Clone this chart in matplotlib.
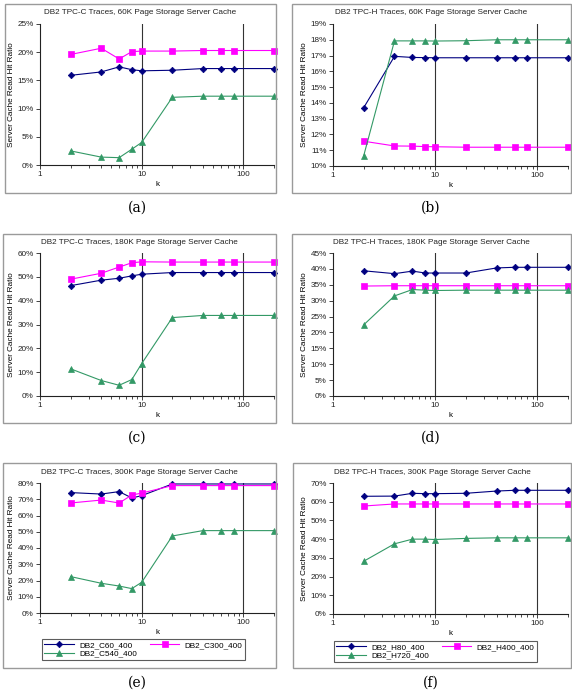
import matplotlib
matplotlib.use("Agg")
import matplotlib.pyplot as plt
from matplotlib.patches import Rectangle
from matplotlib.ticker import FixedLocator, NullFormatter, FuncFormatter

plt.rcParams["font.family"] = ["Liberation Sans", "DejaVu Sans"]

k = [2, 4, 6, 8, 10, 20, 40, 60, 80, 200]

# (a) TPC-C 60K
a_c60 = [15.9, 16.5, 17.4, 16.9, 16.7, 16.8, 17.1, 17.1, 17.1, 17.1]
a_c300 = [19.6, 20.7, 18.8, 20.1, 20.2, 20.2, 20.3, 20.3, 20.3, 20.3]
a_c540 = [2.5, 1.4, 1.3, 2.8, 4.0, 12.0, 12.2, 12.2, 12.2, 12.2]
# (b) TPC-H 60K
b_h80 = [13.7, 16.95, 16.88, 16.87, 16.86, 16.86, 16.86, 16.86, 16.86, 16.86]
b_h400 = [11.57, 11.27, 11.26, 11.23, 11.22, 11.19, 11.19, 11.19, 11.19, 11.19]
b_h720 = [10.66, 17.93, 17.93, 17.93, 17.92, 17.94, 18.0, 18.0, 18.0, 18.0]
# (c) TPC-C 180K
c_c60 = [46.3, 48.6, 49.4, 50.4, 51.1, 51.8, 51.8, 51.8, 51.8, 51.8]
c_c300 = [49.0, 51.5, 54.1, 55.9, 56.3, 56.2, 56.2, 56.2, 56.2, 56.2]
c_c540 = [11.4, 6.5, 4.5, 6.9, 13.6, 32.9, 33.8, 33.8, 33.8, 33.8]
# (d) TPC-H 180K
d_h80 = [39.4, 38.5, 39.3, 38.7, 38.7, 38.7, 40.3, 40.5, 40.5, 40.5]
d_h400 = [34.6, 34.7, 34.7, 34.7, 34.7, 34.7, 34.7, 34.7, 34.7, 34.7]
d_h720 = [22.4, 31.5, 33.5, 33.3, 33.2, 33.3, 33.3, 33.3, 33.3, 33.3]
# (e) TPC-C 300K
e_c60 = [74.1, 73.2, 74.7, 70.8, 72.2, 79.4, 79.4, 79.4, 79.4, 79.4]
e_c300 = [67.7, 69.5, 67.7, 72.6, 73.8, 78.4, 78.4, 78.4, 78.4, 78.4]
e_c540 = [22.4, 18.3, 16.6, 15.0, 18.9, 47.4, 50.7, 50.7, 50.7, 50.7]
# (f) TPC-H 300K
f_h80 = [62.9, 63.0, 64.5, 64.3, 64.3, 64.5, 65.7, 66.1, 66.1, 66.1]
f_h400 = [57.7, 58.8, 58.8, 58.8, 58.8, 58.8, 58.8, 58.8, 58.8, 58.8]
f_h720 = [28.2, 37.5, 40.0, 40.0, 39.8, 40.4, 40.7, 40.7, 40.7, 40.7]

c_names = ["DB2_C60_400", "DB2_C300_400", "DB2_C540_400"]
h_names = ["DB2_H80_400", "DB2_H400_400", "DB2_H720_400"]

titles = [
    "DB2 TPC-C Traces, 60K Page Storage Server Cache",
    "DB2 TPC-H Traces, 60K Page Storage Server Cache",
    "DB2 TPC-C Traces, 180K Page Storage Server Cache",
    "DB2 TPC-H Traces, 180K Page Storage Server Cache",
    "DB2 TPC-C Traces, 300K Page Storage Server Cache",
    "DB2 TPC-H Traces, 300K Page Storage Server Cache",
]
captions = ["(a)", "(b)", "(c)", "(d)", "(e)", "(f)"]

W, H = 572, 690
fig = plt.figure(figsize=(W / 100, H / 100), dpi=100)
fig.patch.set_facecolor("white")

def rect(l, t, r, b):
    return [l / W, 1 - b / H, (r - l) / W, (b - t) / H]

colors = ["#000080", "#FF00FF", "#339966"]
markers = ["D", "s", "^"]
msizes = [3.3, 4.6, 4.6]
FS = 5.9

panels = [
    dict(data=[a_c60, a_c300, a_c540], names=c_names, ylim=(0, 25), ystep=5,
         frame=(5, 4, 276, 193), ax=(40, 24, 274, 165), cap=(137, 208)),
    dict(data=[b_h80, b_h400, b_h720], names=h_names, ylim=(10, 19), ystep=1,
         frame=(292, 4, 571, 193), ax=(333, 24, 568, 166), cap=(431, 208)),
    dict(data=[c_c60, c_c300, c_c540], names=c_names, ylim=(0, 60), ystep=10,
         frame=(3, 234, 276, 423), ax=(40, 253, 274, 396), cap=(137, 438)),
    dict(data=[d_h80, d_h400, d_h720], names=h_names, ylim=(0, 45), ystep=5,
         frame=(292, 234, 571, 423), ax=(333, 253, 568, 396), cap=(431, 438)),
    dict(data=[e_c60, e_c300, e_c540], names=c_names, ylim=(0, 80), ystep=10,
         frame=(3, 463, 276, 668), ax=(40, 483, 274, 613), cap=(137, 683), legend=(42, 639, 238, 663)),
    dict(data=[f_h80, f_h400, f_h720], names=h_names, ylim=(0, 70), ystep=10,
         frame=(293, 463, 571, 668), ax=(333, 483, 568, 614), cap=(431, 683), legend=(334, 641, 531, 663)),
]

for i, p in enumerate(panels):
    fl, ft, fr, fb = p["frame"]
    fig.patches.append(Rectangle((fl / W, 1 - fb / H), (fr - fl) / W, (fb - ft) / H,
                                 transform=fig.transFigure, fill=False,
                                 edgecolor="#9a9a9a", linewidth=1.0))
    fig.text((fl + fr) / 2 / W, 1 - (ft + 9) / H, titles[i], ha="center", va="center",
             fontsize=FS, color="#222222")
    fig.text(p["cap"][0] / W, 1 - p["cap"][1] / H, captions[i], ha="center", va="center",
             fontsize=10, family="DejaVu Serif")

    ax = fig.add_axes(rect(*p["ax"]))
    lines = []
    for j in range(3):
        ln, = ax.plot(k, p["data"][j], color=colors[j], marker=markers[j],
                      markersize=msizes[j], linewidth=0.8, label=p["names"][j],
                      markeredgewidth=0.5, clip_on=False, zorder=3)
        lines.append(ln)
    ax.set_xscale("log")
    ax.set_xlim(1, 200)
    ylo, yhi = p["ylim"]
    ax.set_ylim(ylo, yhi)
    step = p["ystep"]
    ax.set_yticks(list(range(int(ylo), int(yhi) + 1, step)))
    ax.yaxis.set_major_formatter(FuncFormatter(lambda v, pos: f"{int(round(v))}%"))
    ax.xaxis.set_major_locator(FixedLocator([1, 10, 100]))
    ax.xaxis.set_major_formatter(FuncFormatter(lambda v, pos: f"{int(v)}"))
    ax.xaxis.set_minor_locator(FixedLocator([2, 3, 4, 5, 6, 7, 8, 9, 20, 30, 40, 50, 60, 70, 80, 90, 200]))
    ax.xaxis.set_minor_formatter(NullFormatter())
    for xv in [10, 100]:
        ax.axvline(xv, color="#333333", linewidth=0.8, zorder=1)
    ax.spines["top"].set_visible(False)
    ax.spines["right"].set_visible(False)
    for s in ["left", "bottom"]:
        ax.spines[s].set_linewidth(0.8)
        ax.spines[s].set_color("#222222")
    ax.tick_params(axis="both", labelsize=FS, length=3, width=0.6, pad=1.5, colors="#222222")
    ax.tick_params(axis="x", which="minor", length=2, width=0.5)
    ax.set_xlabel("k", fontsize=FS, labelpad=2)
    ax.set_ylabel("Server Cache Read Hit Ratio", fontsize=FS, labelpad=2)

    if "legend" in p:
        ll, lt, lr, lb = p["legend"]
        leg = fig.legend([lines[0], lines[2], lines[1]],
                         [p["names"][0], p["names"][2], p["names"][1]],
                         ncol=2, loc="upper left",
                         bbox_to_anchor=(ll / W, 1 - lt / H),
                         bbox_transform=fig.transFigure,
                         fontsize=FS, frameon=True, fancybox=False,
                         edgecolor="#333333", borderpad=0.3, labelspacing=0.1,
                         handlelength=3.6, columnspacing=1.6, handletextpad=0.6,
                         borderaxespad=0)
        leg.get_frame().set_linewidth(0.8)

fig.savefig("out.png", dpi=100, facecolor="white")
